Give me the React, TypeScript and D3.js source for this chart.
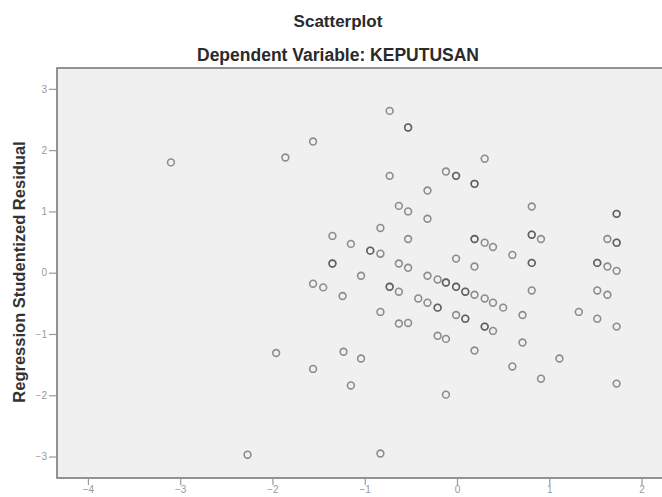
import React, { useEffect, useRef } from "react";
import * as d3 from "d3";

// standardized predicted value (x) and studentized residual (y)
const predicted = [
  -3.1, -1.86, -1.56, -1.35, -1.15, -1.35, -1.35, -0.73, -0.53, -0.53, 0.3, -0.73, -0.12, -0.01, -0.01,
  0.19, 0.19, -0.32, 0.81, 1.73, 1.73, -0.63, -0.53, -0.32, -0.83, -0.53, 0.19, 0.19, 0.3, 0.39,
  0.81, 0.81, 0.91, 1.63, 1.73, 1.73, -0.94, -0.94, -0.83, 0.6, -0.01, 0.81, 0.81, 1.52, 1.52,
  1.63, 1.73, -0.63, -0.53, 0.19, -1.04, -0.32, -0.21, -0.12, -0.12, -0.01, -0.01, 0.09, 0.09, 0.19,
  0.3, 0.39, 0.5, -0.73, -0.73, -0.63, 0.81, 1.52, 1.63, -1.24, -0.42, -0.32, -0.21, -0.21, -0.83,
  0.71, 1.32, 1.52, 1.73, -0.01, 0.09, 0.09, -0.63, -0.53, 0.3, 0.3, 0.39, -0.21, -0.12, 0.19,
  0.71, -1.23, -1.04, 0.6, 1.11, 0.91, 1.73, -1.15, -0.12, -0.83, -1.96, -1.56, -2.27, -1.56, -1.45,
];
const residual = [
  1.8, 1.88, 2.14, 0.6, 0.47, 0.15, 0.15, 2.64, 2.37, 2.37, 1.86, 1.58, 1.65, 1.58, 1.58,
  1.45, 1.45, 1.34, 1.08, 0.96, 0.96, 1.09, 1.0, 0.88, 0.73, 0.55, 0.55, 0.55, 0.49, 0.42,
  0.62, 0.62, 0.55, 0.55, 0.49, 0.49, 0.36, 0.36, 0.31, 0.29, 0.23, 0.16, 0.16, 0.16, 0.16,
  0.1, 0.03, 0.15, 0.08, 0.1, -0.05, -0.05, -0.11, -0.16, -0.16, -0.23, -0.23, -0.31, -0.31, -0.36,
  -0.42, -0.49, -0.57, -0.23, -0.23, -0.31, -0.29, -0.29, -0.36, -0.38, -0.42, -0.49, -0.57, -0.57, -0.64,
  -0.69, -0.64, -0.75, -0.88, -0.69, -0.75, -0.75, -0.83, -0.82, -0.88, -0.88, -0.95, -1.03, -1.08, -1.27,
  -1.14, -1.29, -1.4, -1.53, -1.4, -1.73, -1.81, -1.84, -1.99, -2.95, -1.31, -1.57, -2.97, -0.18, -0.24,
];

const xTicks = [-4, -3, -2, -1, 0, 1, 2];
const yTicks = [-3, -2, -1, 0, 1, 2, 3];

const W = 662;
const H = 497;
const margin = { top: 68, right: -4, bottom: 19, left: 57 };

export default function App() {
  const ref = useRef<SVGSVGElement | null>(null);

  useEffect(() => {
    const svg = d3.select(ref.current);
    svg.selectAll("*").remove();

    const x = d3.scaleLinear().domain([-4.335, 2.265]).range([margin.left, W - margin.right]);
    const y = d3.scaleLinear().domain([-3.35, 3.34]).range([H - margin.bottom, margin.top]);

    svg.append("rect").attr("width", W).attr("height", H).attr("fill", "#fff");

    // plot frame
    svg
      .append("rect")
      .attr("x", margin.left)
      .attr("y", margin.top)
      .attr("width", W - margin.right - margin.left)
      .attr("height", H - margin.bottom - margin.top)
      .attr("fill", "#f0f0f0")
      .attr("stroke", "#7a7a7a")
      .attr("stroke-width", 1.6);

    const xAxis = svg
      .append("g")
      .attr("transform", `translate(0,${H - margin.bottom + 1})`)
      .call(d3.axisBottom(x).tickValues(xTicks).tickSize(6).tickSizeOuter(0).tickFormat(d3.format("d")));
    const yAxis = svg
      .append("g")
      .attr("transform", `translate(${margin.left - 1},0)`)
      .call(d3.axisLeft(y).tickValues(yTicks).tickSize(7).tickSizeOuter(0).tickFormat(d3.format("d")));

    [xAxis, yAxis].forEach((g) => {
      g.select(".domain").remove();
      g.selectAll("line").attr("stroke", "#999").attr("stroke-width", 1.2);
      g.selectAll("text")
        .attr("fill", "#999")
        .style("font-family", "Arial, 'Liberation Sans', sans-serif")
        .style("font-size", "10px");
    });
    // keep the x labels inside the bottom edge
    xAxis.selectAll("text").attr("y", 7).attr("dy", "0.71em");
    yAxis.selectAll("text").attr("x", -9);

    // points
    svg
      .append("g")
      .selectAll("circle")
      .data(d3.range(predicted.length))
      .join("circle")
      .attr("cx", (i) => x(predicted[i]))
      .attr("cy", (i) => y(residual[i]))
      .attr("r", 3.4)
      .attr("fill", "none")
      .attr("stroke", "#3a3a3a")
      .attr("stroke-opacity", 0.55)
      .attr("stroke-width", 1.6);

    const font = "Arial, 'Liberation Sans', sans-serif";
    svg
      .append("text")
      .attr("x", 338)
      .attr("y", 27)
      .attr("text-anchor", "middle")
      .style("font-family", font)
      .style("font-size", "17px")
      .style("font-weight", "bold")
      .attr("fill", "#2a2a2a")
      .text("Scatterplot");
    svg
      .append("text")
      .attr("x", 338)
      .attr("y", 61)
      .attr("text-anchor", "middle")
      .style("font-family", font)
      .style("font-size", "17.5px")
      .style("font-weight", "bold")
      .attr("fill", "#2a2a2a")
      .text("Dependent Variable: KEPUTUSAN");
    svg
      .append("text")
      .attr("transform", `translate(25,272) rotate(-90)`)
      .attr("text-anchor", "middle")
      .style("font-family", font)
      .style("font-size", "16.5px")
      .style("font-weight", "bold")
      .attr("fill", "#333")
      .text("Regression Studentized Residual");
  }, []);

  return (
    <svg
      ref={ref}
      width={W}
      height={H}
      style={{ position: "absolute", left: 0, top: 0, display: "block" }}
    />
  );
}
